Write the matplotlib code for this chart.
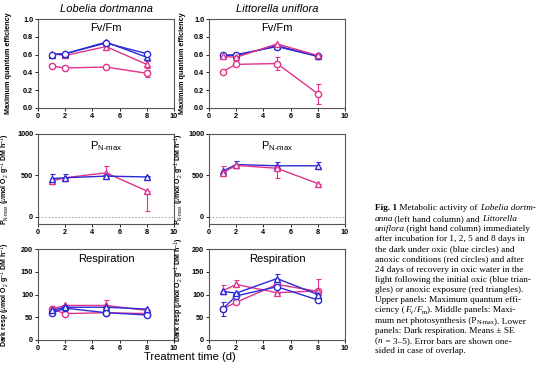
import numpy as np
import matplotlib
matplotlib.use("Agg")
import matplotlib.pyplot as plt

plt.rcParams['font.family'] = ['Liberation Sans', 'DejaVu Sans']
plt.rcParams['mathtext.fontset'] = 'custom'
plt.rcParams['mathtext.rm'] = 'Liberation Sans'
plt.rcParams['mathtext.it'] = 'Liberation Sans:italic'
plt.rcParams['mathtext.bf'] = 'Liberation Sans:bold'

# dias de tratamiento
days = [1, 2, 5, 8]

# Fv/Fm - Lobelia
lob_fv_ox = [0.60, 0.61, 0.73, 0.61]
lob_fv_ox_rec = [0.60, 0.61, 0.74, 0.57]
lob_fv_anox = [0.47, 0.45, 0.46, 0.39]
lob_fv_anox_err = [0.01, 0.01, 0.01, 0.04]
lob_fv_anox_rec = [0.61, 0.59, 0.69, 0.49]
lob_fv_anox_rec_err = [0.01, 0.01, 0.01, 0.04]

# Fv/Fm - Littorella
lit_fv_ox = [0.59, 0.60, 0.69, 0.58]
lit_fv_ox_rec = [0.59, 0.59, 0.70, 0.58]
lit_fv_anox = [0.41, 0.49, 0.50, 0.16]
lit_fv_anox_err = [0.01, 0.01, 0.07, 0.11]
lit_fv_anox_rec = [0.58, 0.57, 0.72, 0.59]

# PN-max - Lobelia (solo recuperacion)
lob_pn_ox_rec = [460, 470, 490, 480]
lob_pn_ox_rec_lo = [0, 0, 30, 0]
lob_pn_ox_rec_hi = [50, 50, 0, 10]
lob_pn_anox_rec = [430, 470, 530, 310]
lob_pn_anox_rec_lo = [30, 0, 0, 240]
lob_pn_anox_rec_hi = [0, 0, 80, 0]

# PN-max - Littorella
lit_pn_ox_rec = [550, 630, 615, 615]
lit_pn_ox_rec_lo = [0, 0, 0, 40]
lit_pn_ox_rec_hi = [0, 40, 40, 40]
lit_pn_anox_rec = [530, 620, 585, 400]
lit_pn_anox_rec_lo = [0, 0, 120, 0]
lit_pn_anox_rec_hi = [80, 0, 0, 0]

# Respiracion - Lobelia
lob_r_ox = [60, 70, 60, 55]
lob_r_ox_rec = [65, 72, 72, 68]
lob_r_anox = [68, 58, 60, 58]
lob_r_anox_rec = [68, 76, 76, 65]
lob_r_anox_rec_hi = [7, 0, 13, 0]

# Respiracion - Littorella
lit_r_ox = [68, 97, 117, 88]
lit_r_ox_lo = [16, 0, 0, 0]
lit_r_ox_hi = [15, 0, 0, 0]
lit_r_ox_rec = [107, 103, 135, 100]
lit_r_ox_rec_hi = [0, 0, 10, 0]
lit_r_anox = [68, 83, 122, 107]
lit_r_anox_rec = [108, 122, 104, 108]
lit_r_anox_rec_hi = [12, 10, 0, 25]

BLUE = '#2b2bd6'
PINK = '#e0338c'

fig = plt.figure(figsize=(5.54, 3.78), dpi=100)

W, H = 554.0, 378.0
def box(x0, y0, x1, y1):
    return [x0 / W, 1 - y1 / H, (x1 - x0) / W, (y1 - y0) / H]

cols = [(38, 174), (209, 345)]
rows = [(19, 108), (134, 224), (249, 340)]


def serie(ax, y, color, marker, lo=None, hi=None):
    ax.plot(days, y, color=color, lw=1.0, marker=marker, ms=4.5,
            mfc='white', mec=color, mew=1.0, zorder=3)
    if lo is not None or hi is not None:
        lo = np.zeros(4) if lo is None else np.array(lo)
        hi = np.zeros(4) if hi is None else np.array(hi)
        ax.errorbar(days, y, yerr=[lo, hi], fmt='none', ecolor=color,
                    elinewidth=0.8, capsize=1.8, capthick=0.8, zorder=2)


def estilo(ax, ylim, yticks, fmt):
    ax.set_xlim(0, 10)
    ax.set_xticks([0, 2, 4, 6, 8, 10])
    ax.set_ylim(*ylim)
    ax.set_yticks(yticks)
    ax.set_yticklabels([fmt.format(v) for v in yticks])
    ax.tick_params(direction='out', length=2, width=0.6, pad=1.5,
                   labelsize=5.2)
    for lab in ax.get_xticklabels() + ax.get_yticklabels():
        lab.set_fontweight('bold')
    for s in ax.spines.values():
        s.set_color('#555555')
        s.set_linewidth(0.8)


axs = [[fig.add_axes(box(c[0], r[0], c[1], r[1])) for c in cols] for r in rows]

# fila superior: Fv/Fm
ax = axs[0][0]
serie(ax, lob_fv_anox, PINK, 'o', lob_fv_anox_err, lob_fv_anox_err)
serie(ax, lob_fv_anox_rec, PINK, '^', lob_fv_anox_rec_err, lob_fv_anox_rec_err)
serie(ax, lob_fv_ox_rec, BLUE, '^')
serie(ax, lob_fv_ox, BLUE, 'o')
ax = axs[0][1]
serie(ax, lit_fv_anox, PINK, 'o', lit_fv_anox_err, lit_fv_anox_err)
serie(ax, lit_fv_ox_rec, BLUE, '^')
serie(ax, lit_fv_ox, BLUE, 'o')
serie(ax, lit_fv_anox_rec, PINK, '^')
for ax in axs[0]:
    estilo(ax, (0, 1.0), [0, 0.2, 0.4, 0.6, 0.8, 1.0], '{:.1f}')
    ax.text(0.5, 0.9, 'Fv/Fm', transform=ax.transAxes, ha='center',
            va='center', fontsize=8)
    ax.set_ylabel('Maximum quantum efficiency', fontsize=5.2, fontweight='bold')

# fila media: PN-max
ax = axs[1][0]
serie(ax, lob_pn_anox_rec, PINK, '^', lob_pn_anox_rec_lo, lob_pn_anox_rec_hi)
serie(ax, lob_pn_ox_rec, BLUE, '^', lob_pn_ox_rec_lo, lob_pn_ox_rec_hi)
ax = axs[1][1]
serie(ax, lit_pn_ox_rec, BLUE, '^', lit_pn_ox_rec_lo, lit_pn_ox_rec_hi)
serie(ax, lit_pn_anox_rec, PINK, '^', lit_pn_anox_rec_lo, lit_pn_anox_rec_hi)
for ax in axs[1]:
    estilo(ax, (-90, 1000), [0, 500, 1000], '{:.0f}')
    ax.axhline(0, color='#999999', lw=0.6, ls=(0, (2, 2)), zorder=1)
    ax.text(0.5, 0.86, r'P$_{\rm N\text{-}max}$', transform=ax.transAxes,
            ha='center', va='center', fontsize=8)
    ax.set_ylabel(r'P$_{\rm N\text{-}max}$ ($\mu$mol O$_2$ g$^{-1}$ DM h$^{-1}$)',
                  fontsize=5.0, fontweight='bold')

# fila inferior: respiracion
ax = axs[2][0]
serie(ax, lob_r_anox, PINK, 'o')
serie(ax, lob_r_anox_rec, PINK, '^', None, lob_r_anox_rec_hi)
serie(ax, lob_r_ox, BLUE, 'o')
serie(ax, lob_r_ox_rec, BLUE, '^')
ax = axs[2][1]
serie(ax, lit_r_anox, PINK, 'o')
serie(ax, lit_r_anox_rec, PINK, '^', None, lit_r_anox_rec_hi)
serie(ax, lit_r_ox, BLUE, 'o', lit_r_ox_lo, lit_r_ox_hi)
serie(ax, lit_r_ox_rec, BLUE, '^', None, lit_r_ox_rec_hi)
for ax in axs[2]:
    estilo(ax, (0, 200), [0, 50, 100, 150, 200], '{:.0f}')
    ax.text(0.5, 0.89, 'Respiration', transform=ax.transAxes, ha='center',
            va='center', fontsize=8)
    ax.set_ylabel(r'Dark resp ($\mu$mol O$_2$ g$^{-1}$ DM h$^{-1}$)',
                  fontsize=5.0, fontweight='bold')

for r in range(3):
    axs[r][0].yaxis.set_label_coords(-0.19, 0.5)
    axs[r][1].yaxis.set_label_coords(-0.17, 0.5)
axs[2][1].yaxis.set_label_coords(-0.17, 0.55)

fig.text(106 / W, 1 - 9 / H, 'Lobelia dortmanna', ha='center', va='center',
         fontsize=8, style='italic')
fig.text(277 / W, 1 - 9 / H, 'Littorella uniflora', ha='center', va='center',
         fontsize=8, style='italic')
fig.text(190 / W, 1 - 357 / H, 'Treatment time (d)', ha='center', va='center',
         fontsize=8)

# leyenda de la figura (texto a la derecha), por tramos: n normal, i cursiva,
# b negrita, s subindice
caption = [
    [('Fig. 1', 'b'), (' Metabolic activity of ', 'n'), ('Lobelia dortm-', 'i')],
    [('anna', 'i'), (' (left hand column) and ', 'n'), ('Littorella', 'i')],
    [('uniflora', 'i'), (' (right hand column) immediately', 'n')],
    [('after incubation for 1, 2, 5 and 8 days in', 'n')],
    [('the dark under oxic (blue circles) and', 'n')],
    [('anoxic conditions (red circles) and after', 'n')],
    [('24 days of recovery in oxic water in the', 'n')],
    [('light following the initial oxic (blue trian-', 'n')],
    [('gles) or anoxic exposure (red triangles).', 'n')],
    [('Upper panels: Maximum quantum effi-', 'n')],
    [('ciency (', 'n'), ('F', 'i'), ('v', 's'), ('/', 'n'), ('F', 'i'),
     ('m', 's'), ('). Middle panels: Maxi-', 'n')],
    [('mum net photosynthesis (P', 'n'), ('N-max', 's'), ('). Lower', 'n')],
    [('panels: Dark respiration. Means ± SE', 'n')],
    [('(', 'n'), ('n', 'i'), (' = 3–5). Error bars are shown one-', 'n')],
    [('sided in case of overlap.', 'n')],
]
fig.canvas.draw()
renderer = fig.canvas.get_renderer()
fs = 6.7
for i, runs in enumerate(caption):
    x = 375.0
    base = 210.5 + i * 10.2
    for txt, kind in runs:
        kw = dict(fontsize=fs, family=['Liberation Serif', 'DejaVu Serif'])
        y = base
        if kind == 'i':
            kw['style'] = 'italic'
        elif kind == 'b':
            kw['weight'] = 'bold'
        elif kind == 's':
            kw['fontsize'] = fs * 0.7
            y = base + 1.5
        t = fig.text(x / W, 1 - y / H, txt, ha='left', va='baseline', **kw)
        x += t.get_window_extent(renderer).width
        if kind == 'i' and len(txt) > 1:
            x -= 1.5

fig.savefig('out.png', dpi=100)
